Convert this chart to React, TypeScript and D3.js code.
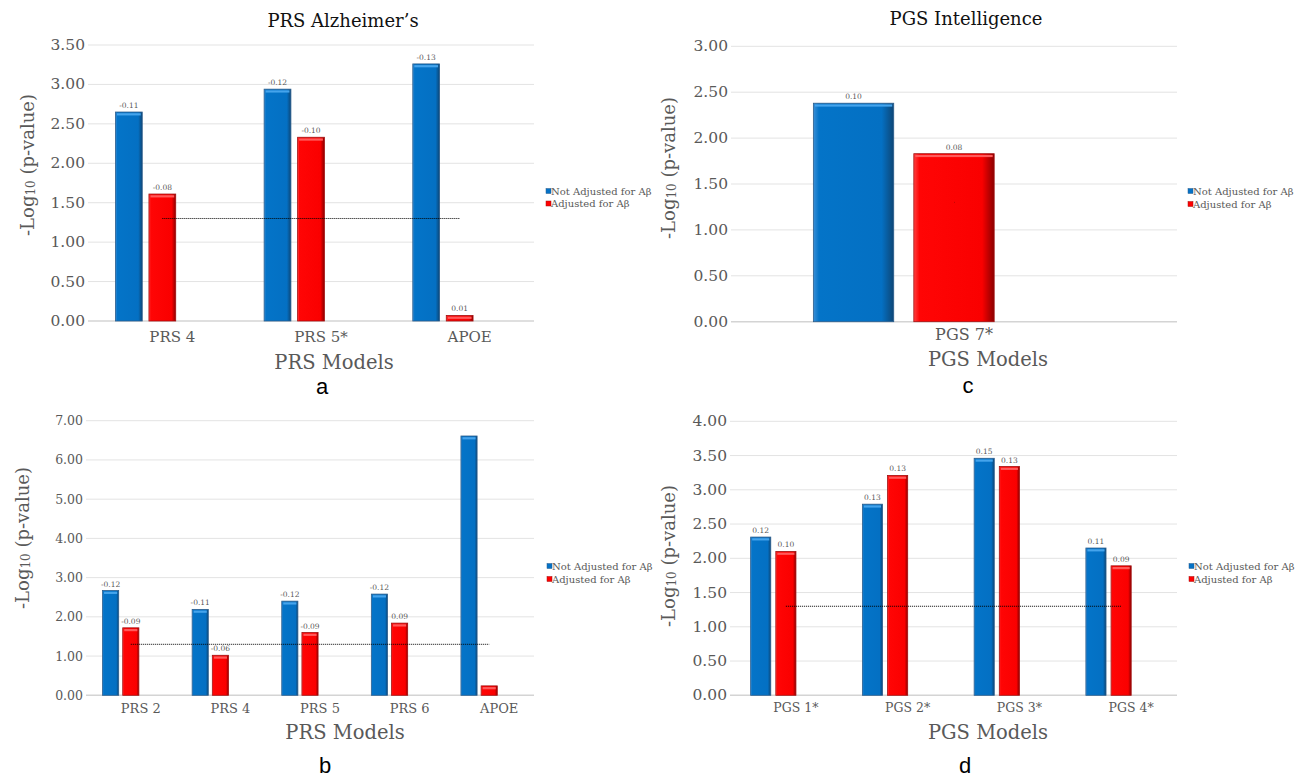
import React from "react";
import * as d3 from "d3";

// ---------- data ----------
const SERIES = ["Not Adjusted for Aβ", "Adjusted for Aβ"];
const THRESHOLD = 1.3;

const catsA = ["PRS 4", "PRS 5*", "APOE"];
const notAdjA = [2.65, 2.94, 3.26];
const adjA = [1.61, 2.33, 0.07];
const notAdjLblA = ["-0.11", "-0.12", "-0.13"];
const adjLblA = ["-0.08", "-0.10", "0.01"];
const ticksA = [0, 0.5, 1, 1.5, 2, 2.5, 3, 3.5];

const catsB = ["PRS 2", "PRS 4", "PRS 5", "PRS 6", "APOE"];
const notAdjB = [2.67, 2.19, 2.4, 2.58, 6.61];
const adjB = [1.72, 1.02, 1.6, 1.84, 0.24];
const notAdjLblB = ["-0.12", "-0.11", "-0.12", "-0.12", ""];
const adjLblB = ["-0.09", "-0.06", "-0.09", "0.09", ""];
const ticksB = [0, 1, 2, 3, 4, 5, 6, 7];

const catsC = ["PGS 7*"];
const notAdjC = [2.38];
const adjC = [1.83];
const notAdjLblC = ["0.10"];
const adjLblC = ["0.08"];
const ticksC = [0, 0.5, 1, 1.5, 2, 2.5, 3];

const catsD = ["PGS 1*", "PGS 2*", "PGS 3*", "PGS 4*"];
const notAdjD = [2.31, 2.79, 3.46, 2.15];
const adjD = [2.1, 3.21, 3.34, 1.89];
const notAdjLblD = ["0.12", "0.13", "0.15", "0.11"];
const adjLblD = ["0.10", "0.13", "0.13", "0.09"];
const ticksD = [0, 0.5, 1, 1.5, 2, 2.5, 3, 3.5, 4];

// ---------- layout ----------
const FONT = "'DejaVu Serif', 'Liberation Serif', serif";
const GREY = "#595959";

type Cfg = {
  x0: number; x1: number; yTop: number; y0: number;
  tickFs: number; catFs: number; catDy: number;
  title?: string; titleX?: number; titleY?: number;
  xTitle: string; xTitleX: number; xTitleY: number;
  letter: string; letterX: number; letterY: number;
  yTitleX: number; yTitleY: number;
  legX: number; legY: number; legGap: number;
};

const cfgA: Cfg = {
  x0: 88, x1: 534, yTop: 45, y0: 321, tickFs: 15.5, catFs: 15, catDy: 21,
  title: "PRS Alzheimer’s", titleX: 343, titleY: 27,
  xTitle: "PRS Models", xTitleX: 334, xTitleY: 369,
  letter: "a", letterX: 322, letterY: 394,
  yTitleX: 27, yTitleY: 165, legX: 546, legY: 191, legGap: 12.5,
};
const cfgB: Cfg = {
  x0: 86, x1: 534, yTop: 420.7, y0: 695.3, tickFs: 12.5, catFs: 13, catDy: 18,
  xTitle: "PRS Models", xTitleX: 345, xTitleY: 739,
  letter: "b", letterX: 325, letterY: 773,
  yTitleX: 22, yTitleY: 538, legX: 547, legY: 566, legGap: 13,
};
const cfgC: Cfg = {
  x0: 731, x1: 1177, yTop: 46.3, y0: 321.7, tickFs: 15.5, catFs: 16, catDy: 18,
  title: "PGS Intelligence", titleX: 966, titleY: 25,
  xTitle: "PGS Models", xTitleX: 988, xTitleY: 366,
  letter: "c", letterX: 968, letterY: 393,
  yTitleX: 668, yTitleY: 168, legX: 1188, legY: 191, legGap: 13,
};
const cfgD: Cfg = {
  x0: 730, x1: 1177, yTop: 421.3, y0: 695.3, tickFs: 15.5, catFs: 12.5, catDy: 17,
  xTitle: "PGS Models", xTitleX: 988, xTitleY: 739,
  letter: "d", letterX: 965, letterY: 773,
  yTitleX: 668, yTitleY: 556, legX: 1189, legY: 566, legGap: 13,
};

const COLORS = ["#0472c7", "#ff0000"];
const GRADS = ["gBlue", "gRed"];
const STROKES = ["#2b5d8c", "#a31010"];
const HIGHLIGHT = ["#45a4ec", "#ff5a5a"];

function Panel(props: {
  cfg: Cfg; cats: string[]; s1: number[]; s2: number[];
  l1: string[]; l2: string[]; ticks: number[];
}) {
  const { cfg, cats, s1, s2, l1, l2, ticks } = props;
  const x = d3.scaleBand<string>().domain(cats).range([cfg.x0, cfg.x1]);
  const inner = d3
    .scaleBand<string>()
    .domain(["0", "1", "2"])
    .range([0, x.bandwidth()])
    .paddingInner(0.2)
    .paddingOuter(0.82);
  const y = d3
    .scaleLinear()
    .domain([0, ticks[ticks.length - 1]])
    .range([cfg.y0, cfg.yTop]);
  const series = [s1, s2];
  const labels = [l1, l2];
  const w = inner.bandwidth();
  const center = (c: string) => (x(c) as number) + x.bandwidth() / 2;

  return (
    <g>
      {cfg.title && (
        <text x={cfg.titleX} y={cfg.titleY} textAnchor="middle" fontFamily={FONT}
          fontSize={18} fill="#111">{cfg.title}</text>
      )}
      {/* gridlines */}
      {ticks.map((t) => (
        <line key={"g" + t} x1={cfg.x0} x2={cfg.x1} y1={y(t)} y2={y(t)}
          stroke={t === 0 ? "#d4d4d4" : "#e3e3e3"} strokeWidth={t === 0 ? 1.5 : 1} />
      ))}
      {/* tick labels */}
      {ticks.map((t) => (
        <text key={"t" + t} x={cfg.x0 - 3} y={y(t)} textAnchor="end" dominantBaseline="central"
          fontFamily={FONT} fontSize={cfg.tickFs} fill={GREY}>{t.toFixed(2)}</text>
      ))}
      {/* bars */}
      {series.map((vals, si) =>
        cats.map((c, ci) => {
          const bx = (x(c) as number) + (inner(String(si)) as number);
          const by = y(vals[ci]);
          const bh = y(0) - by;
          return (
            <g key={`b${si}-${ci}`}>
              <rect x={bx} y={by} width={w} height={bh} fill={`url(#${GRADS[si]})`}
                stroke={STROKES[si]} strokeWidth={0.8} />
              {bh > 4 && (
                <rect x={bx + 1.5} y={by + 1.2} width={w - 3} height={Math.min(2.2, bh - 2)}
                  fill={HIGHLIGHT[si]} />
              )}
              {labels[si][ci] && (
                <text x={bx + w / 2} y={by - 4} textAnchor="middle" fontFamily={FONT}
                  fontSize={7.5} fill={GREY}>{labels[si][ci]}</text>
              )}
            </g>
          );
        })
      )}
      {/* threshold dotted line */}
      <line x1={center(cats[0])} x2={center(cats[cats.length - 1])} y1={y(THRESHOLD)} y2={y(THRESHOLD)}
        stroke="#000" strokeWidth={1} strokeDasharray="1,1" />
      {/* category labels */}
      {cats.map((c) => (
        <text key={"c" + c} x={center(c) + 10} y={cfg.y0 + cfg.catDy} textAnchor="middle"
          fontFamily={FONT} fontSize={cfg.catFs} fill={GREY}>{c}</text>
      ))}
      {/* axis titles */}
      <text x={cfg.xTitleX} y={cfg.xTitleY} textAnchor="middle" fontFamily={FONT} fontSize={19.5}
        fill={GREY}>{cfg.xTitle}</text>
      <text transform={`translate(${cfg.yTitleX},${cfg.yTitleY}) rotate(-90)`} textAnchor="middle"
        dominantBaseline="central" fontFamily={FONT} fontSize={18} fill={GREY}>
        <tspan>-Log</tspan>
        <tspan dy={4} fontSize={12}>10</tspan>
        <tspan dy={-4}> (p-value)</tspan>
      </text>
      <text x={cfg.letterX} y={cfg.letterY} textAnchor="middle"
        fontFamily="'Liberation Sans', Arial, sans-serif" fontSize={22} fill="#000">{cfg.letter}</text>
      {/* legend */}
      {SERIES.map((s, i) => (
        <g key={"l" + i}>
          <rect x={cfg.legX} y={cfg.legY + i * cfg.legGap - 2.5} width={5} height={5} fill={COLORS[i]}
            stroke={STROKES[i]} strokeWidth={0.5} />
          <text x={cfg.legX + 5} y={cfg.legY + i * cfg.legGap} dominantBaseline="central"
            fontFamily={FONT} fontSize={10} fill={GREY}>{s}</text>
        </g>
      ))}
    </g>
  );
}

export default function App() {
  return (
    <div style={{ position: "absolute", left: 0, top: 0 }}>
      <svg width={1306} height={779} style={{ display: "block", background: "#fff" }}>
        <defs>
          <linearGradient id="gBlue" x1="0" x2="1" y1="0" y2="0">
            <stop offset="0" stopColor="#3a8fd6" />
            <stop offset="0.07" stopColor="#0474c8" />
            <stop offset="0.85" stopColor="#0470c3" />
            <stop offset="1" stopColor="#0d4676" />
          </linearGradient>
          <linearGradient id="gRed" x1="0" x2="1" y1="0" y2="0">
            <stop offset="0" stopColor="#ff4040" />
            <stop offset="0.07" stopColor="#ff0505" />
            <stop offset="0.85" stopColor="#fa0000" />
            <stop offset="1" stopColor="#8c0000" />
          </linearGradient>
        </defs>
        <Panel cfg={cfgA} cats={catsA} s1={notAdjA} s2={adjA} l1={notAdjLblA} l2={adjLblA} ticks={ticksA} />
        <Panel cfg={cfgB} cats={catsB} s1={notAdjB} s2={adjB} l1={notAdjLblB} l2={adjLblB} ticks={ticksB} />
        <Panel cfg={cfgC} cats={catsC} s1={notAdjC} s2={adjC} l1={notAdjLblC} l2={adjLblC} ticks={ticksC} />
        <Panel cfg={cfgD} cats={catsD} s1={notAdjD} s2={adjD} l1={notAdjLblD} l2={adjLblD} ticks={ticksD} />
      </svg>
    </div>
  );
}
